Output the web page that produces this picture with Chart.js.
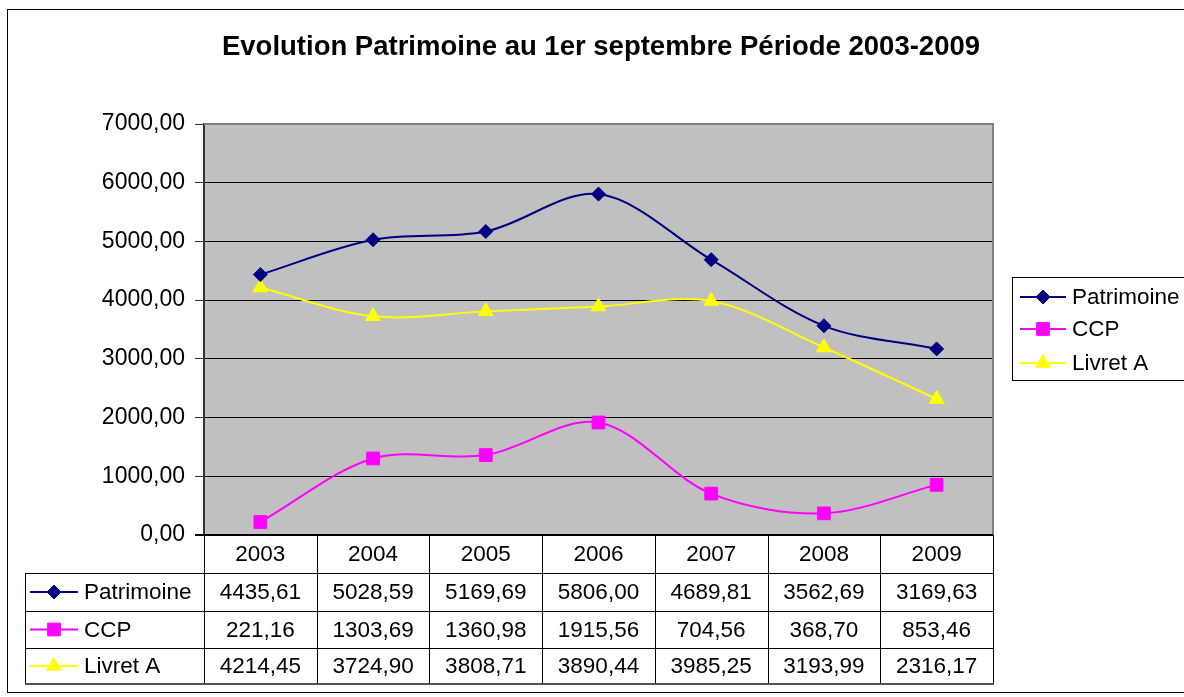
<!DOCTYPE html>
<html>
<head>
<meta charset="utf-8">
<script src="https://cdn.jsdelivr.net/npm/chart.js@4/dist/chart.umd.min.js"></script>
<style>
html,body{margin:0;padding:0;background:#fff;}
#wrap{position:relative;width:1184px;height:697px;}
</style>
</head>
<body>
<div id="wrap"><canvas id="c" width="1184" height="697"></canvas></div>
<script>
// ---- data ----
const chartTitle = 'Evolution Patrimoine au 1er septembre Période 2003-2009';
const categories = ['2003', '2004', '2005', '2006', '2007', '2008', '2009'];
const patrimoine = [4435.61, 5028.59, 5169.69, 5806.00, 4689.81, 3562.69, 3169.63];
const ccp = [221.16, 1303.69, 1360.98, 1915.56, 704.56, 368.70, 853.46];
const livretA = [4214.45, 3724.90, 3808.71, 3890.44, 3985.25, 3193.99, 2316.17];
const seriesNames = ['Patrimoine', 'CCP', 'Livret A'];
const yTicks = [0, 1000, 2000, 3000, 4000, 5000, 6000, 7000];

// ---- styling ----
const FONT = '"Liberation Sans", Arial, sans-serif';
const TARGET = {left: 204, top: 124, right: 993, bottom: 535};
const fmt = v => Number(v).toFixed(2).replace('.', ',');

const styles = [
  {color: '#000080', pointStyle: 'rectRot', radius: 7},
  {color: '#FF00FF', pointStyle: 'rect', radius: 9},
  {color: '#FFFF00', pointStyle: 'triangle', radius: 8.5}
];
const seriesData = [patrimoine, ccp, livretA];

function marker(ctx, st, x, y) {
  ctx.save();
  ctx.fillStyle = st.color;
  ctx.strokeStyle = st.color;
  ctx.lineWidth = 1;
  if (Chart.helpers && Chart.helpers.drawPoint) {
    Chart.helpers.drawPoint(ctx, {pointStyle: st.pointStyle, rotation: 0, radius: st.radius, borderWidth: 1}, x, y);
  }
  ctx.restore();
}
function legendKey(ctx, st, x0, x1, y) {
  ctx.save();
  ctx.strokeStyle = st.color;
  ctx.lineWidth = 2;
  ctx.beginPath(); ctx.moveTo(x0, y); ctx.lineTo(x1, y); ctx.stroke();
  ctx.restore();
  marker(ctx, st, (x0 + x1) / 2, y);
}

const decorPlugin = {
  id: 'decor',
  beforeDraw(chart) {
    const ctx = chart.ctx, a = chart.chartArea;
    ctx.save();
    ctx.fillStyle = '#ffffff';
    ctx.fillRect(0, 0, chart.width, chart.height);
    ctx.fillStyle = '#C0C0C0';
    ctx.fillRect(a.left, a.top, a.right - a.left, a.bottom - a.top);
    // outer frame
    ctx.strokeStyle = '#000';
    ctx.lineWidth = 1;
    ctx.strokeRect(7.5, 9.5, 1190, 683);
    ctx.restore();
  },
  afterDraw(chart) {
    const ctx = chart.ctx, a = chart.chartArea;
    const xs = chart.scales.x;
    ctx.save();
    // plot border top/right
    ctx.strokeStyle = '#808080';
    ctx.lineWidth = 2;
    ctx.beginPath();
    ctx.moveTo(a.left, a.top); ctx.lineTo(a.right, a.top); ctx.lineTo(a.right, a.bottom);
    ctx.stroke();
    // title
    ctx.fillStyle = '#000';
    ctx.font = 'bold 27.5px ' + FONT;
    ctx.textAlign = 'center';
    ctx.textBaseline = 'middle';
    ctx.fillText(chartTitle, 601, 47);

    // data table
    const n = categories.length;
    const cw = (a.right - a.left) / n;
    const rowY = [a.bottom, 573, 611, 648, 684];
    ctx.strokeStyle = '#000';
    ctx.lineWidth = 1;
    ctx.beginPath();
    for (let i = 0; i <= n; i++) {
      const x = Math.round(xs.getPixelForValue(0) - cw / 2 + i * cw) + 0.5;
      ctx.moveTo(x, a.bottom); ctx.lineTo(x, rowY[4]);
    }
    for (let r = 1; r < 4; r++) {
      ctx.moveTo(25, rowY[r] + 0.5); ctx.lineTo(a.right, rowY[r] + 0.5);
    }
    ctx.moveTo(25.5, rowY[1]); ctx.lineTo(25.5, rowY[4]);
    ctx.stroke();
    ctx.strokeStyle = '#555';
    ctx.lineWidth = 2;
    ctx.beginPath();
    ctx.moveTo(25, rowY[4]); ctx.lineTo(a.right + 1, rowY[4]);
    ctx.stroke();
    // x axis line (black)
    ctx.strokeStyle = '#000';
    ctx.lineWidth = 2;
    ctx.beginPath();
    ctx.moveTo(a.left - 9, a.bottom); ctx.lineTo(a.right, a.bottom);
    ctx.stroke();

    ctx.fillStyle = '#000';
    ctx.font = '22.5px ' + FONT;
    ctx.textAlign = 'center';
    ctx.textBaseline = 'middle';
    categories.forEach((c, i) => {
      ctx.fillText(c, xs.getPixelForValue(i), (rowY[0] + rowY[1]) / 2 + 1);
    });
    seriesData.forEach((arr, s) => {
      const yc = (rowY[s + 1] + rowY[s + 2]) / 2 + 1;
      arr.forEach((v, i) => {
        ctx.fillText(fmt(v), xs.getPixelForValue(i), yc);
      });
    });
    ctx.textAlign = 'left';
    seriesNames.forEach((nm, s) => {
      const yc = (rowY[s + 1] + rowY[s + 2]) / 2;
      legendKey(ctx, styles[s], 30, 78, yc);
      ctx.fillStyle = '#000';
      ctx.fillText(nm, 84, yc + 1);
    });

    // legend box
    ctx.strokeStyle = '#000';
    ctx.lineWidth = 1;
    ctx.fillStyle = '#fff';
    ctx.fillRect(1012.5, 277.5, 200, 103);
    ctx.strokeRect(1012.5, 277.5, 200, 103);
    const ly = [297, 329, 363];
    seriesNames.forEach((nm, s) => {
      legendKey(ctx, styles[s], 1020, 1066, ly[s]);
      ctx.fillStyle = '#000';
      ctx.font = '22.5px ' + FONT;
      ctx.fillText(nm, 1072, ly[s] + 1);
    });
    ctx.restore();
  }
};

const datasets = seriesData.map((arr, s) => ({
  label: seriesNames[s],
  data: arr,
  borderColor: styles[s].color,
  backgroundColor: styles[s].color,
  borderWidth: 2,
  pointStyle: styles[s].pointStyle,
  pointRadius: styles[s].radius,
  pointHoverRadius: styles[s].radius,
  pointBorderWidth: 1,
  pointBackgroundColor: styles[s].color,
  pointBorderColor: styles[s].color,
  tension: 0.33,
  fill: false
}));

const cfg = {
  type: 'line',
  data: {labels: categories, datasets},
  options: {
    responsive: false,
    animation: false,
    devicePixelRatio: 1,
    layout: {padding: {left: 0, right: 1184 - TARGET.right, top: TARGET.top, bottom: 697 - TARGET.bottom}},
    plugins: {
      legend: {display: false},
      title: {display: false},
      tooltip: {enabled: false}
    },
    scales: {
      x: {
        type: 'category',
        offset: true,
        display: false,
        grid: {display: false}
      },
      y: {
        min: 0,
        max: 7000,
        afterBuildTicks(scale) { scale.ticks = yTicks.map(v => ({value: v})); },
        afterFit(scale) { scale.width = TARGET.left - cfg.options.layout.padding.left; },
        ticks: {
          color: '#000',
          padding: 10,
          font: {family: FONT, size: 23},
          callback: v => fmt(v)
        },
        grid: {
          color: '#000',
          lineWidth: 1,
          drawTicks: true,
          tickLength: 9,
          tickColor: '#333'
        },
        border: {display: true, color: '#333', width: 2}
      }
    }
  },
  plugins: [decorPlugin]
};

const chart = new Chart(document.getElementById('c'), cfg);
// align chart area exactly to the target plot rectangle
const ca = chart.chartArea;
const pad = cfg.options.layout.padding;
pad.top += TARGET.top - ca.top;
pad.bottom += ca.bottom - TARGET.bottom;
pad.right += ca.right - TARGET.right;
chart.update();
</script>
</body>
</html>
